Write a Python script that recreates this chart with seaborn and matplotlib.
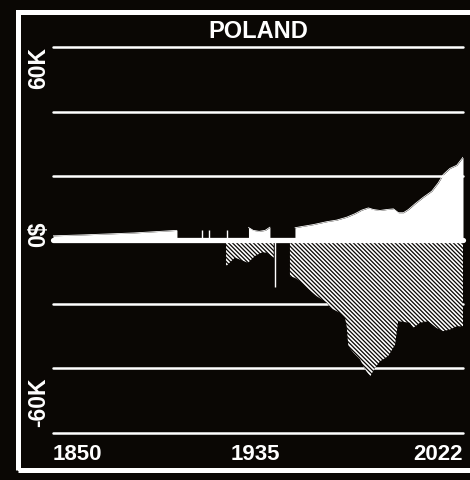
import numpy as np
import pandas as pd
import matplotlib.pyplot as plt
import matplotlib.transforms as mtransforms
import seaborn as sns
from matplotlib.patches import Rectangle

nan = np.nan

# white area above zero ($ per person); nan = gap
pos_years = [1850, 1863, 1884, 1902, 1910,
             1932, 1934, 1936.5, 1939, 1941, 1946,
             1951.5, 1953.6, 1959.2, 1964.8, 1969, 1973.2, 1976.7, 1979.5,
             1982.3, 1984.4, 1987.2, 1990, 1992.8, 1994.9, 1997, 1999.1,
             2001.9, 2005.3, 2008.9, 2011.6, 2013.7, 2016.5, 2019.4, 2022]
pos_values = [1300, 1600, 2200, 3000, nan,
              3900, 3000, 2700, 3000, 4000, nan,
              3800, 4100, 4800, 5700, 6200, 7100, 8200, 9300,
              10000, 9500, 9200, 9500, 9700, 8500, 8500, 9500,
              11300, 13300, 15200, 17800, 20400, 22300, 23300, 25800]

# hatched area below zero
neg_years = [1922.6, 1924.2, 1926.3, 1928.4, 1931.8, 1934.7, 1937.5, 1939.6,
             1941.7, 1942.6, 1946,
             1949.4, 1951.5, 1953.6, 1956.4, 1960.6, 1964.8, 1966.2, 1970.4,
             1972.5, 1973.2, 1973.9, 1976, 1978.8, 1980.9, 1983, 1985.1,
             1987.2, 1990.6, 1993.5, 1994.8, 1999.7, 2001.1, 2003.9, 2007.4,
             2010.9, 2013.7, 2016.5, 2019.3, 2022]
neg_values = [-8200, -7000, -5500, -6100, -7100, -5000, -3900, -3900,
              -5000, -5500, nan,
              -11300, -11800, -12800, -14900, -17500, -19500, -21100, -22700,
              -24200, -26900, -33100, -35100, -37200, -40300, -42600, -39800,
              -37800, -36200, -32600, -25300, -25800, -27400, -25800, -25300,
              -27400, -28400, -27900, -26900, -26900]

# lone years, drawn as thin strokes
spike_years = [1912.4, 1915.6, 1922.9, 1943.2]
spike_values = [3000, 3000, 3000, -14800]

grid_values = [-60000, -40000, -20000, 20000, 40000, 60000]
x_ticks = [1850, 1935, 2022]
y_label_values = [60000, 0, -60000]
y_label_texts = ['60K', '0$', '-60K']
title = 'POLAND'

bg = '#0a0704'
W, H = 470, 480


def segments(years, values):
    df = pd.DataFrame({'year': years, 'value': values})
    df['seg'] = df['value'].isna().cumsum()
    return df.dropna()


def px(x, y):
    return x / W, 1 - y / H


pos = segments(pos_years, pos_values)
neg = segments(neg_years, neg_values)

sns.set_theme(style='dark', rc={'figure.facecolor': bg, 'axes.facecolor': bg,
                                'hatch.color': 'white', 'hatch.linewidth': 1.2})
plt.rcParams['font.family'] = ['Liberation Sans', 'DejaVu Sans']

fig = plt.figure(figsize=(W / 100, H / 100), dpi=100)
ax = fig.add_axes([53 / W, 47.5 / H, 410 / W, 385 / H])
ax.set_xlim(1850, 2022)
ax.set_ylim(-60000, 60000)
ax.set_axis_off()

for v in grid_values:
    ax.axhline(v, color='white', lw=1.8, zorder=1, clip_on=False)

for _, g in pos.groupby('seg'):
    ax.fill_between(g['year'], 0, g['value'], color='white', lw=0, zorder=2)
for _, g in neg.groupby('seg'):
    ax.fill_between(g['year'], 0, g['value'], facecolor=bg, edgecolor='white',
                    hatch='\\' * 8, lw=0, zorder=2)

sns.lineplot(data=pos, x='year', y='value', units='seg', estimator=None,
             color='white', lw=0.6, ax=ax, zorder=3)
ax.vlines(spike_years, 0, spike_values, colors='white', lw=1, zorder=3)
ax.axhline(0, color='white', lw=3.8, zorder=4, clip_on=False)

# frame (runs off the right edge)
fig.patches.append(Rectangle(px(17.5, 469.5), (490 - 17.5) / W, (469.5 - 11.5) / H,
                             transform=fig.transFigure, fill=False,
                             ec='white', lw=3.6))

fig.text(*px(258, 38), title, ha='center', va='baseline',
         fontsize=17, weight='bold', color='white')

# x labels
xt = mtransforms.blended_transform_factory(ax.transData, fig.transFigure)
for yr, ha in zip(x_ticks, ['left', 'center', 'right']):
    ax.text(yr, px(0, 460)[1], str(yr), transform=xt, ha=ha, va='baseline',
            fontsize=16, weight='bold', color='white')

# y labels, rotated
yt = mtransforms.blended_transform_factory(fig.transFigure, ax.transData)
offsets = [0, 1700, 1800]
for v, lab, ha, off in zip(y_label_values, y_label_texts, ['right', 'center', 'left'], offsets):
    ax.text(45 / W, v + off, lab, transform=yt, rotation=90, rotation_mode='anchor',
            ha=ha, va='baseline', fontsize=16.5, weight='bold', color='white')

fig.savefig('out.png', dpi=100, facecolor=bg)
